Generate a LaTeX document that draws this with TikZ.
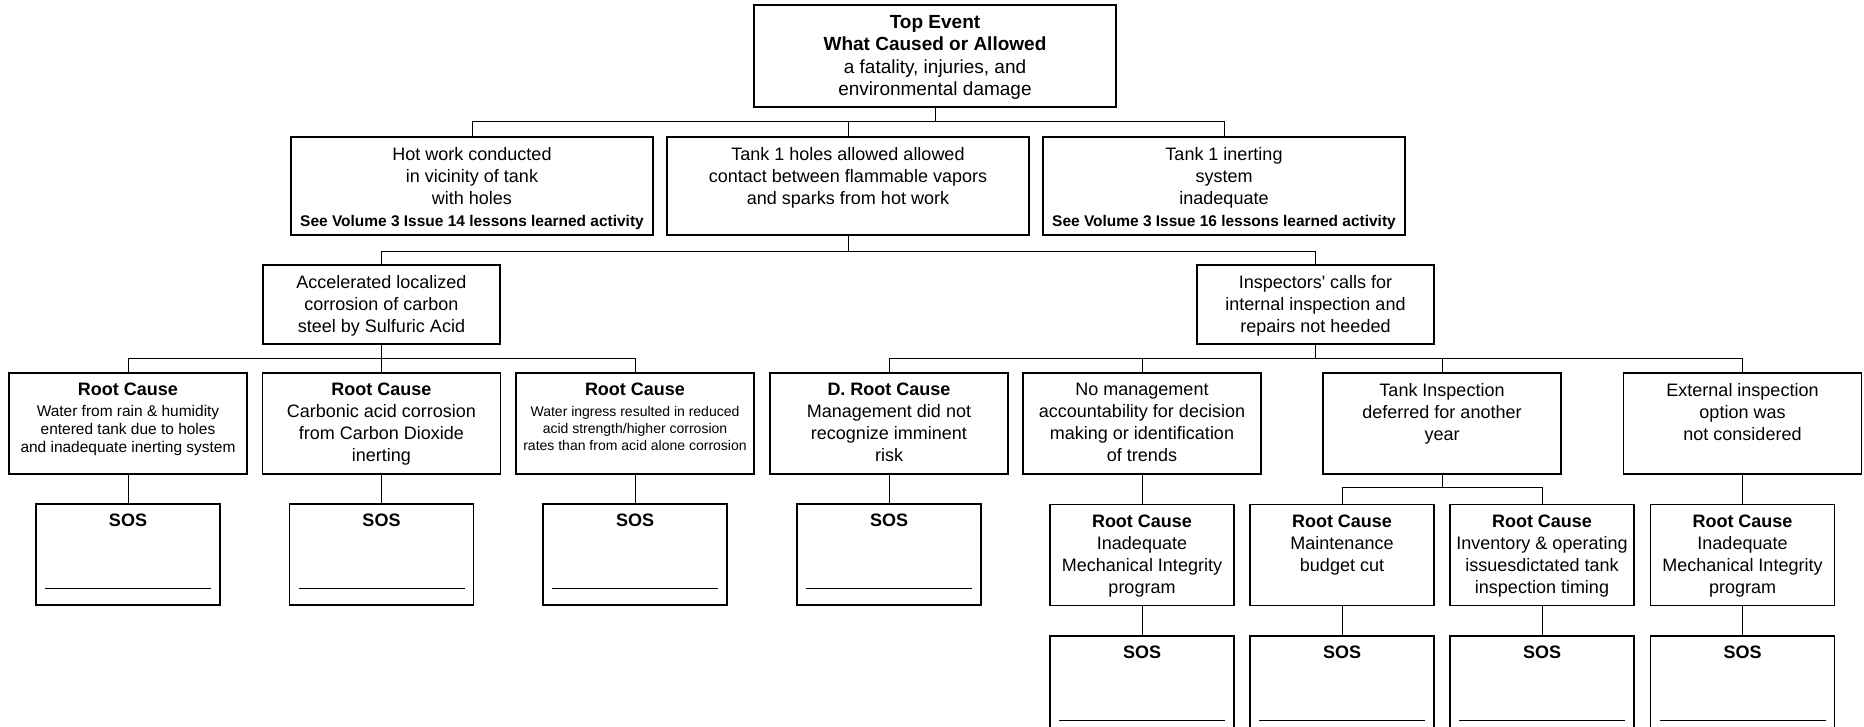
\documentclass[tikz,border=0pt]{standalone}
\usepackage{fontspec}
\setmainfont{Liberation Sans}
\newcommand\fmain{\fontsize{13.5pt}{16.5pt}\selectfont}
\newcommand\ftop{\fontsize{14.25pt}{16.9pt}\selectfont}
\newcommand\fsb{\bfseries\fontsize{11.6pt}{13pt}\selectfont}
\newcommand\fsmall{\fontsize{11.6pt}{13.5pt}\selectfont}
\newcommand\fxs{\fontsize{10.5pt}{12.9pt}\selectfont}
\newcommand\fbighead{\bfseries\fontsize{13.5pt}{16.5pt}\selectfont}
\begin{document}
\begin{tikzpicture}[x=0.75pt,y=-0.75pt,
  box/.style={draw, inner sep=0pt, line width=0.9pt},
  topbox/.style={box, minimum width=271.5pt, minimum height=76.5pt},
  lone/.style={box, minimum width=271.5pt, minimum height=73.5pt},
  ltwo/.style={box, minimum width=177.75pt, minimum height=59.25pt},
  lthree/.style={box, minimum width=178.5pt, minimum height=75.75pt},
  smallbox/.style={box, minimum width=138pt, minimum height=75.75pt},
  txt/.style={anchor=north, yshift=-7.9pt, align=center, inner sep=0pt, font=\fmain},
  sosbox/.style={smallbox,
    path picture={\draw[line width=0.6pt] ([xshift=6.75pt,yshift=-63pt]path picture bounding box.north west) -- ([xshift=-6.75pt,yshift=-63pt]path picture bounding box.north east);},
    label={[txt]north:\textbf{SOS}}},
  conn/.style={line width=0.75pt}
]
\fill[white] (0,0) rectangle (1864,726);
\useasboundingbox (0,0) rectangle (1864,726);
\clip (0,0) rectangle (1864,726);

% top
\node[topbox, label={[txt, font=\ftop]north:{\textbf{Top Event}\\\textbf{What Caused or Allowed}\\a fatality, injuries, and\\environmental damage}}] (top) at (935,56) {};

% level 1
\node[lone, label={[txt]north:{Hot work conducted\\in vicinity of tank\\with holes\\{\fsb See Volume 3 Issue 14 lessons learned activity}}}] (hot) at (472,186) {};
\node[lone, label={[txt]north:{Tank 1 holes allowed allowed\\contact between flammable vapors\\and sparks from hot work}}] (holes) at (848,186) {};
\node[lone, label={[txt]north:{Tank 1 inerting\\system\\inadequate\\{\fsb See Volume 3 Issue 16 lessons learned activity}}}] (inert) at (1224,186) {};

% level 2
\node[ltwo, label={[txt]north:{Accelerated localized\\corrosion of carbon\\steel by Sulfuric Acid}}] (acc) at (381.5,304.5) {};
\node[ltwo, label={[txt]north:{Inspectors\textquotesingle\ calls for\\internal inspection and\\repairs not heeded}}] (insp) at (1315.5,304.5) {};

% level 3
\node[lthree, label={[txt, font=\fsmall]north:{{\fbighead Root Cause}\\[2.2pt]Water from rain \& humidity\\entered tank due to holes\\and inadequate inerting system}}] (r1) at (128,423.5) {};
\node[lthree, label={[txt]north:{\textbf{Root Cause}\\Carbonic acid corrosion\\from Carbon Dioxide\\inerting}}] (r2) at (381.5,423.5) {};
\node[lthree, label={[txt, font=\fxs]north:{{\fbighead Root Cause}\\[2.3pt]Water ingress resulted in reduced\\acid strength/higher corrosion\\rates than from acid alone corrosion}}] (r3) at (635,423.5) {};
\node[lthree, label={[txt]north:{\textbf{D. Root Cause}\\Management did not\\recognize imminent\\risk}}] (d) at (889,423.5) {};
\node[lthree, label={[txt]north:{No management\\accountability for decision\\making or identification\\of trends}}] (nm) at (1142,423.5) {};
\node[lthree, label={[txt]north:{Tank Inspection\\deferred for another\\year}}] (ti) at (1442,423.5) {};
\node[lthree, label={[txt]north:{External inspection\\option was\\not considered}}] (ext) at (1742.5,423.5) {};

% SOS row 1
\node[sosbox] (s1) at (128,554.5) {};
\node[sosbox] (s2) at (381.5,554.5) {};
\node[sosbox] (s3) at (635,554.5) {};
\node[sosbox] (s4) at (889,554.5) {};

% root causes row 4
\node[smallbox, label={[txt]north:{\textbf{Root Cause}\\Inadequate\\Mechanical Integrity\\program}}] (rc1) at (1142,555) {};
\node[smallbox, label={[txt]north:{\textbf{Root Cause}\\Maintenance\\budget cut}}] (rc2) at (1342,555) {};
\node[smallbox, label={[txt]north:{\textbf{Root Cause}\\Inventory \& operating\\issuesdictated tank\\inspection timing}}] (rc3) at (1542,555) {};
\node[smallbox, label={[txt]north:{\textbf{Root Cause}\\Inadequate\\Mechanical Integrity\\program}}] (rc4) at (1742.5,555) {};

% bottom SOS
\node[sosbox] (b1) at (1142,686.5) {};
\node[sosbox] (b2) at (1342,686.5) {};
\node[sosbox] (b3) at (1542,686.5) {};
\node[sosbox] (b4) at (1742.5,686.5) {};

% connectors
\draw[conn] (top.south) -- ++(0,14) -| (hot.north);
\draw[conn] (top.south) -- ++(0,14) -| (holes.north);
\draw[conn] (top.south) -- ++(0,14) -| (inert.north);
\draw[conn] (holes.south) -- ++(0,16) -| (acc.north);
\draw[conn] (holes.south) -- ++(0,16) -| (insp.north);
\draw[conn] (acc.south) -- ++(0,14) -| (r1.north);
\draw[conn] (acc.south) -- ++(0,14) -| (r2.north);
\draw[conn] (acc.south) -- ++(0,14) -| (r3.north);
\draw[conn] (insp.south) -- ++(0,14) -| (d.north);
\draw[conn] (insp.south) -- ++(0,14) -| (nm.north);
\draw[conn] (insp.south) -- ++(0,14) -| (ti.north);
\draw[conn] (insp.south) -- ++(0,14) -| (ext.north);
\draw[conn] (r1.south) -- (s1.north);
\draw[conn] (r2.south) -- (s2.north);
\draw[conn] (r3.south) -- (s3.north);
\draw[conn] (d.south) -- (s4.north);
\draw[conn] (nm.south) -- (rc1.north);
\draw[conn] (ti.south) -- ++(0,13) -| (rc2.north);
\draw[conn] (ti.south) -- ++(0,13) -| (rc3.north);
\draw[conn] (ext.south) -- (rc4.north);
\draw[conn] (rc1.south) -- (b1.north);
\draw[conn] (rc2.south) -- (b2.north);
\draw[conn] (rc3.south) -- (b3.north);
\draw[conn] (rc4.south) -- (b4.north);
\end{tikzpicture}
\end{document}
